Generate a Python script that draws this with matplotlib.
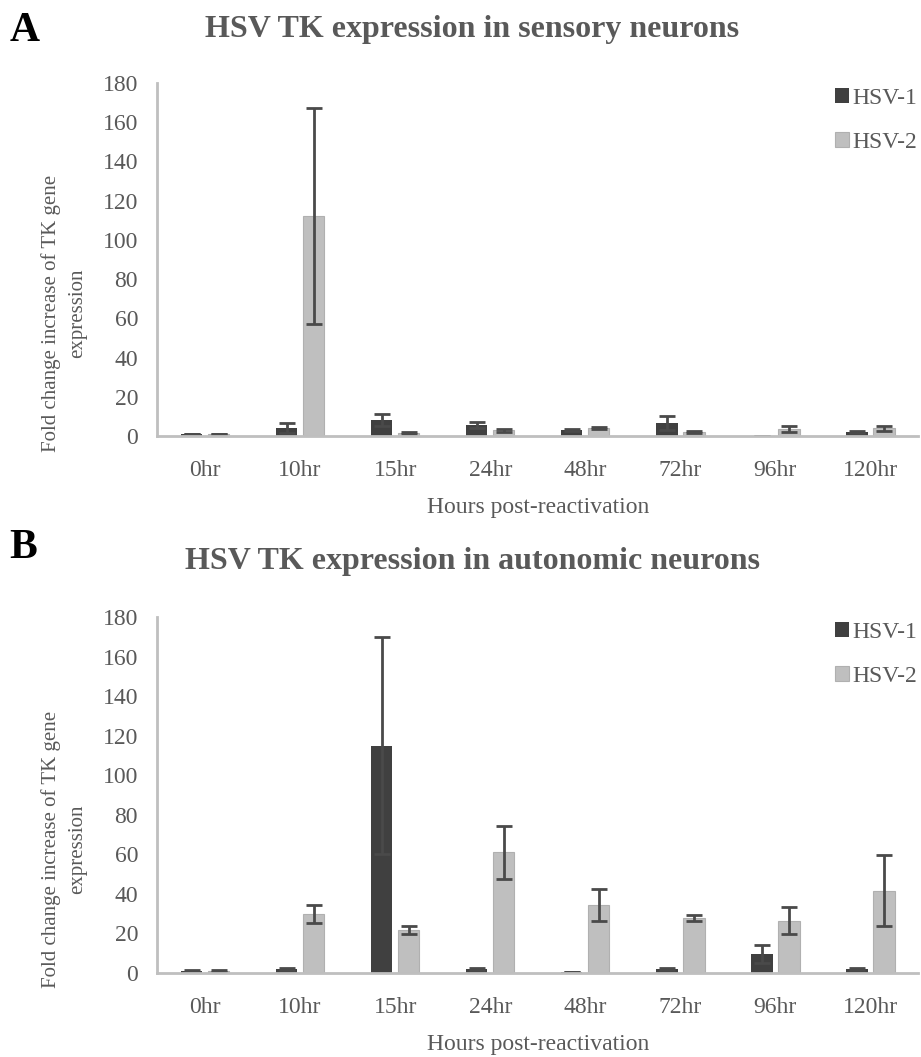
import matplotlib
matplotlib.use("Agg")
import matplotlib.pyplot as plt
import numpy as np

plt.rcParams['font.family'] = ['Liberation Serif', 'DejaVu Serif']

hours = ['0hr', '10hr', '15hr', '24hr', '48hr', '72hr', '96hr', '120hr']

# panel A - sensory neurons
sens_hsv1 = [1, 4, 8, 5.5, 3, 6.5, 0, 2]
sens_hsv1_err = [0.2, 2.5, 3, 1.5, 0.5, 3.5, 0, 0.5]
sens_hsv2 = [1, 112, 1.5, 3, 4, 2, 3.5, 4]
sens_hsv2_err = [0.2, 55, 0.3, 0.7, 0.5, 0.5, 1.5, 1.2]

# panel B - autonomic neurons
auto_hsv1 = [1, 2, 115, 2, 0.5, 2, 9.5, 2]
auto_hsv1_err = [0.3, 0.5, 55, 0.4, 0.1, 0.4, 4.5, 0.5]
auto_hsv2 = [1, 30, 21.5, 61, 34.5, 28, 26.5, 41.5]
auto_hsv2_err = [0.3, 4.5, 2, 13.5, 8, 1.5, 7, 18]

dark = '#404040'
light = '#bfbfbf'
txt = '#595959'

fig = plt.figure(figsize=(9.21, 10.57), dpi=100)
axA = fig.add_axes([0.171, 0.5875, 0.8257, 0.334])
axB = fig.add_axes([0.171, 0.0795, 0.8257, 0.3368])

def draw(ax, h1, e1, h2, e2):
    x = np.arange(len(hours))
    w = 0.226
    ekw = dict(ecolor='#4a4a4a', elinewidth=2, capsize=6, capthick=2)
    ax.bar(x - 0.142, h1, w, color=dark, label='HSV-1',
           yerr=e1, error_kw=ekw)
    ax.bar(x + 0.142, h2, w, color=light, edgecolor='#b0b0b0', linewidth=0.8,
           label='HSV-2', yerr=e2, error_kw=ekw)
    ax.set_xlim(-0.5, len(hours) - 0.5)
    ax.set_ylim(0, 180)
    ax.set_yticks(range(0, 181, 20))
    ax.set_xticks(x)
    ax.set_xticklabels(hours)
    ax.tick_params(length=0, labelsize=17, labelcolor=txt)
    ax.tick_params(axis='y', pad=14)
    ax.tick_params(axis='x', pad=17)
    for s in ['top', 'right']:
        ax.spines[s].set_visible(False)
    for s in ['left', 'bottom']:
        ax.spines[s].set_color('#bfbfbf')
        ax.spines[s].set_linewidth(2)
    ax.set_xlabel('Hours post-reactivation', fontsize=17, color=txt, labelpad=12)
    ax.set_ylabel('Fold change increase of TK gene\nexpression', fontsize=15,
                  color=txt, linespacing=1.45)
    ax.yaxis.set_label_coords(-0.093, 0.348)
    ax.legend(loc='upper left', bbox_to_anchor=(0.878, 1.012), frameon=False,
              fontsize=17, labelcolor=txt, handlelength=0.6, handleheight=0.6,
              handletextpad=0.15, labelspacing=0.95, borderaxespad=0)

draw(axA, sens_hsv1, sens_hsv1_err, sens_hsv2, sens_hsv2_err)
draw(axB, auto_hsv1, auto_hsv1_err, auto_hsv2, auto_hsv2_err)

fig.text(0.5125, 1 - 30 / 1057, 'HSV TK expression in sensory neurons',
         fontsize=23, fontweight='bold', color=txt, ha='center', va='center')
fig.text(0.5125, 1 - 562 / 1057, 'HSV TK expression in autonomic neurons',
         fontsize=23, fontweight='bold', color=txt, ha='center', va='center')

fig.text(0.01, 0.971, 'A', fontsize=30, fontweight='bold', va='center')
fig.text(0.01, 0.482, 'B', fontsize=30, fontweight='bold', va='center')

fig.savefig('out.png', dpi=100)
